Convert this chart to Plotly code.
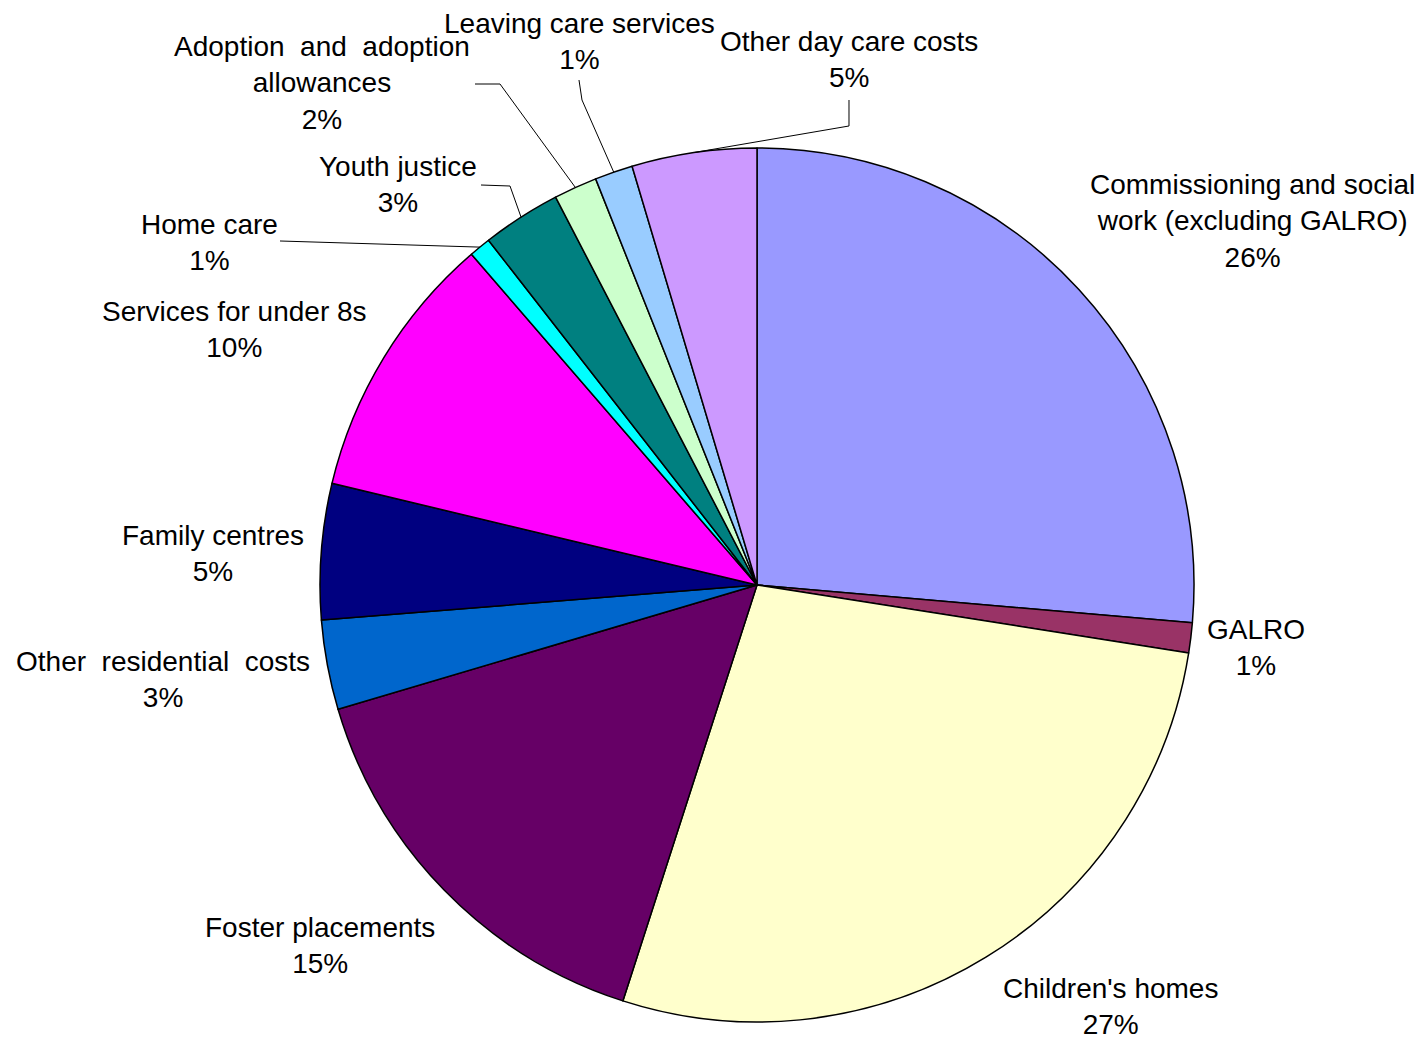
import math
import plotly.graph_objects as go

categories = [
    "Commissioning and social<br>work (excluding GALRO)",
    "GALRO",
    "Children's homes",
    "Foster placements",
    "Other  residential  costs",
    "Family centres",
    "Services for under 8s",
    "Home care",
    "Youth justice",
    "Adoption  and  adoption<br>allowances",
    "Leaving care services",
    "Other day care costs",
]
values = [26.3, 1.1, 27.4, 15.4, 3.3, 5.0, 9.9, 0.8, 2.9, 1.6, 1.4, 4.6]
colors = ["#9999FF", "#993366", "#FFFFCC", "#660066", "#0066CC", "#000080",
          "#FF00FF", "#00FFFF", "#008080", "#CCFFCC", "#99CCFF", "#CC99FF"]

W, H = 1423, 1039
OFF = 8  # page body margin offset
CX, CY, R = 757 - OFF, 585 - OFF, 437

# label block centres (page pixels) and optional leader elbows
label_pos = [(1252, 221), (1256, 647), (1110, 1006), (320, 945), (163, 679),
             (213, 553), (234, 329), (209, 243), (398, 185), (322, 83),
             (579, 42), (849, 59)]
leader_pts = {7: [(280, 241)],
              8: [(481, 185), (510, 186)],
              9: [(475, 84), (500, 84)],
              10: [(579, 80), (582, 100)],
              11: [(849, 100), (849, 126)]}

fig = go.Figure(go.Pie(
    labels=categories, values=values, sort=False, direction="clockwise",
    rotation=0, marker=dict(colors=colors, line=dict(color="black", width=1.5)),
    textinfo="none", hoverinfo="skip", showlegend=False,
    domain=dict(x=[(CX - R) / W, (CX + R) / W],
                y=[1 - (CY + R) / H, 1 - (CY - R) / H]),
))

def px(x, y):
    return x / W, 1 - y / H

total = sum(values)
cum = 0
annotations = []
shapes = []
for i, (cat, v) in enumerate(zip(categories, values)):
    mid = (cum + v / 2) / total * 2 * math.pi
    cum += v
    pct = round(v / total * 100)
    lx, ly = label_pos[i]
    ax, ay = px(lx - OFF, ly - OFF)
    annotations.append(dict(
        x=ax, y=ay, xref="paper", yref="paper", showarrow=False,
        text=f"{cat}<br>{pct}%", align="center", borderpad=0,
        font=dict(family="Liberation Sans, Arial, sans-serif", size=28, color="black"),
        xanchor="center", yanchor="middle"))
    if i in leader_pts:
        rx = CX + R * math.sin(mid)
        ry = CY - R * math.cos(mid)
        pts = [(x - OFF, y - OFF) for x, y in leader_pts[i]] + [(rx, ry)]
        path = ""
        for j, (x, y) in enumerate(pts):
            qx, qy = px(x, y)
            path += ("M" if j == 0 else " L") + f" {qx:.5f},{qy:.5f}"
        shapes.append(dict(type="path", path=path, xref="paper", yref="paper",
                           line=dict(color="black", width=1)))

fig.update_layout(
    width=W, height=H, margin=dict(l=0, r=0, t=0, b=0),
    paper_bgcolor="white", plot_bgcolor="white",
    annotations=annotations, shapes=shapes,
)
fig.write_html("out.html")
